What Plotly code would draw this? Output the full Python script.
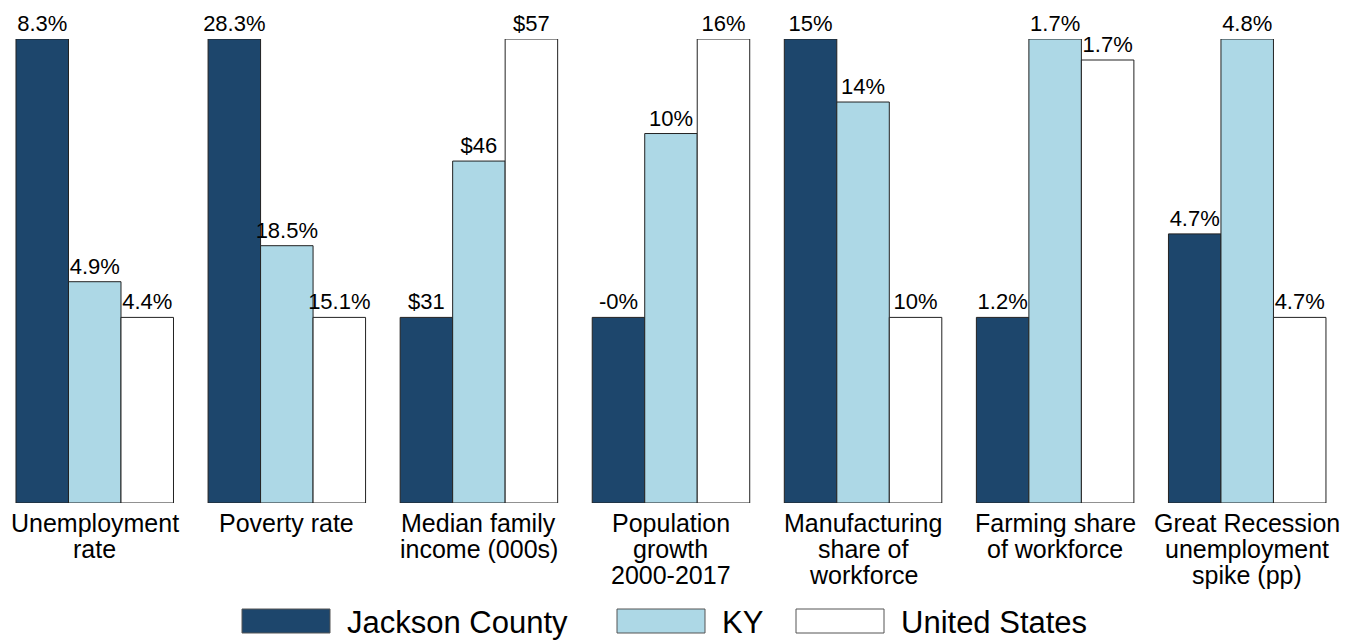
import plotly.graph_objects as go

categories = ["Unemployment<br>rate", "Poverty rate", "Median family<br>income (000s)",
              "Population<br>growth<br>2000-2017", "Manufacturing<br>share of<br>workforce",
              "Farming share<br>of workforce", "Great Recession<br>unemployment<br>spike (pp)"]
series_names = ["Jackson County", "KY", "United States"]
jackson = [8.3, 28.3, 31.0, -0.2, 15.1, 1.20, 4.714]
ky = [4.9, 18.5, 45.6, 10.5, 13.9, 1.73, 4.84]
us = [4.4, 15.1, 57.0, 16.0, 9.8, 1.69, 4.66]
jackson_labels = ["8.3%", "28.3%", "$31", "-0%", "15%", "1.2%", "4.7%"]
ky_labels = ["4.9%", "18.5%", "$46", "10%", "14%", "1.7%", "4.8%"]
us_labels = ["4.4%", "15.1%", "$57", "16%", "10%", "1.7%", "4.7%"]
colors = ["#1d466c", "#add8e6", "#ffffff"]
FONT = "Liberation Sans, Arial, sans-serif"

# Scale each category: group minimum -> 0.4, group maximum -> 1.0
def scaled(vals_by_series):
    out = [[] for _ in vals_by_series]
    for i in range(len(categories)):
        col = [s[i] for s in vals_by_series]
        lo, hi = min(col), max(col)
        for k, v in enumerate(col):
            out[k].append(0.4 + 0.6 * (v - lo) / (hi - lo) if hi > lo else 1.0)
    return out

heights = scaled([jackson, ky, us])
labels = [jackson_labels, ky_labels, us_labels]

# page geometry (page is offset 8px by body margin)
W, H = 1353, 632
TOP, BASE = 31, 495
PH = BASE - TOP

def py(p):
    return (BASE - p) / PH

fig = go.Figure()
for k, name in enumerate(series_names):
    fig.add_trace(go.Bar(
        x=list(range(len(categories))), y=heights[k], name=name,
        marker=dict(color=colors[k], line=dict(color="#222222", width=1)),
        text=labels[k], textposition="outside", cliponaxis=False,
        constraintext="none",
        textfont=dict(size=22, color="black", family=FONT),
        showlegend=False,
    ))

fig.update_layout(
    width=W, height=H, barmode="group", bargap=0.18, bargroupgap=0,
    plot_bgcolor="white", paper_bgcolor="white",
    margin=dict(l=0, r=0, t=TOP, b=H - BASE),
    font=dict(family=FONT, size=20, color="black"),
    xaxis=dict(range=[-0.4516, 6.5924], showgrid=False, zeroline=False, showline=False,
               ticks="", showticklabels=False),
    yaxis=dict(range=[0, 1], visible=False),
)

# category labels, one annotation per line for tight line spacing
for i, cat in enumerate(categories):
    for j, line in enumerate(cat.split("<br>")):
        fig.add_annotation(xref="x", yref="paper", x=i, y=py(515 + 26 * j), text=line,
                           showarrow=False, xanchor="center", yanchor="middle",
                           font=dict(size=25, color="black", family=FONT))

# Manual legend with wide swatches
legend_items = [(234, 322, 337, "Jackson County"), (609, 697, 712, "KY"),
                (788, 876, 891, "United States")]
for k, (x0, x1, tx, txt) in enumerate(legend_items):
    fig.add_shape(type="rect", xref="paper", yref="paper",
                  x0=x0 / W, x1=x1 / W, y0=py(625), y1=py(601),
                  fillcolor=colors[k], line=dict(color="#555555", width=1))
    fig.add_annotation(xref="paper", yref="paper", x=tx / W, y=py(614), text=txt,
                       showarrow=False, xanchor="left", yanchor="middle",
                       font=dict(size=31, color="black", family=FONT))

fig.write_html("out.html")
